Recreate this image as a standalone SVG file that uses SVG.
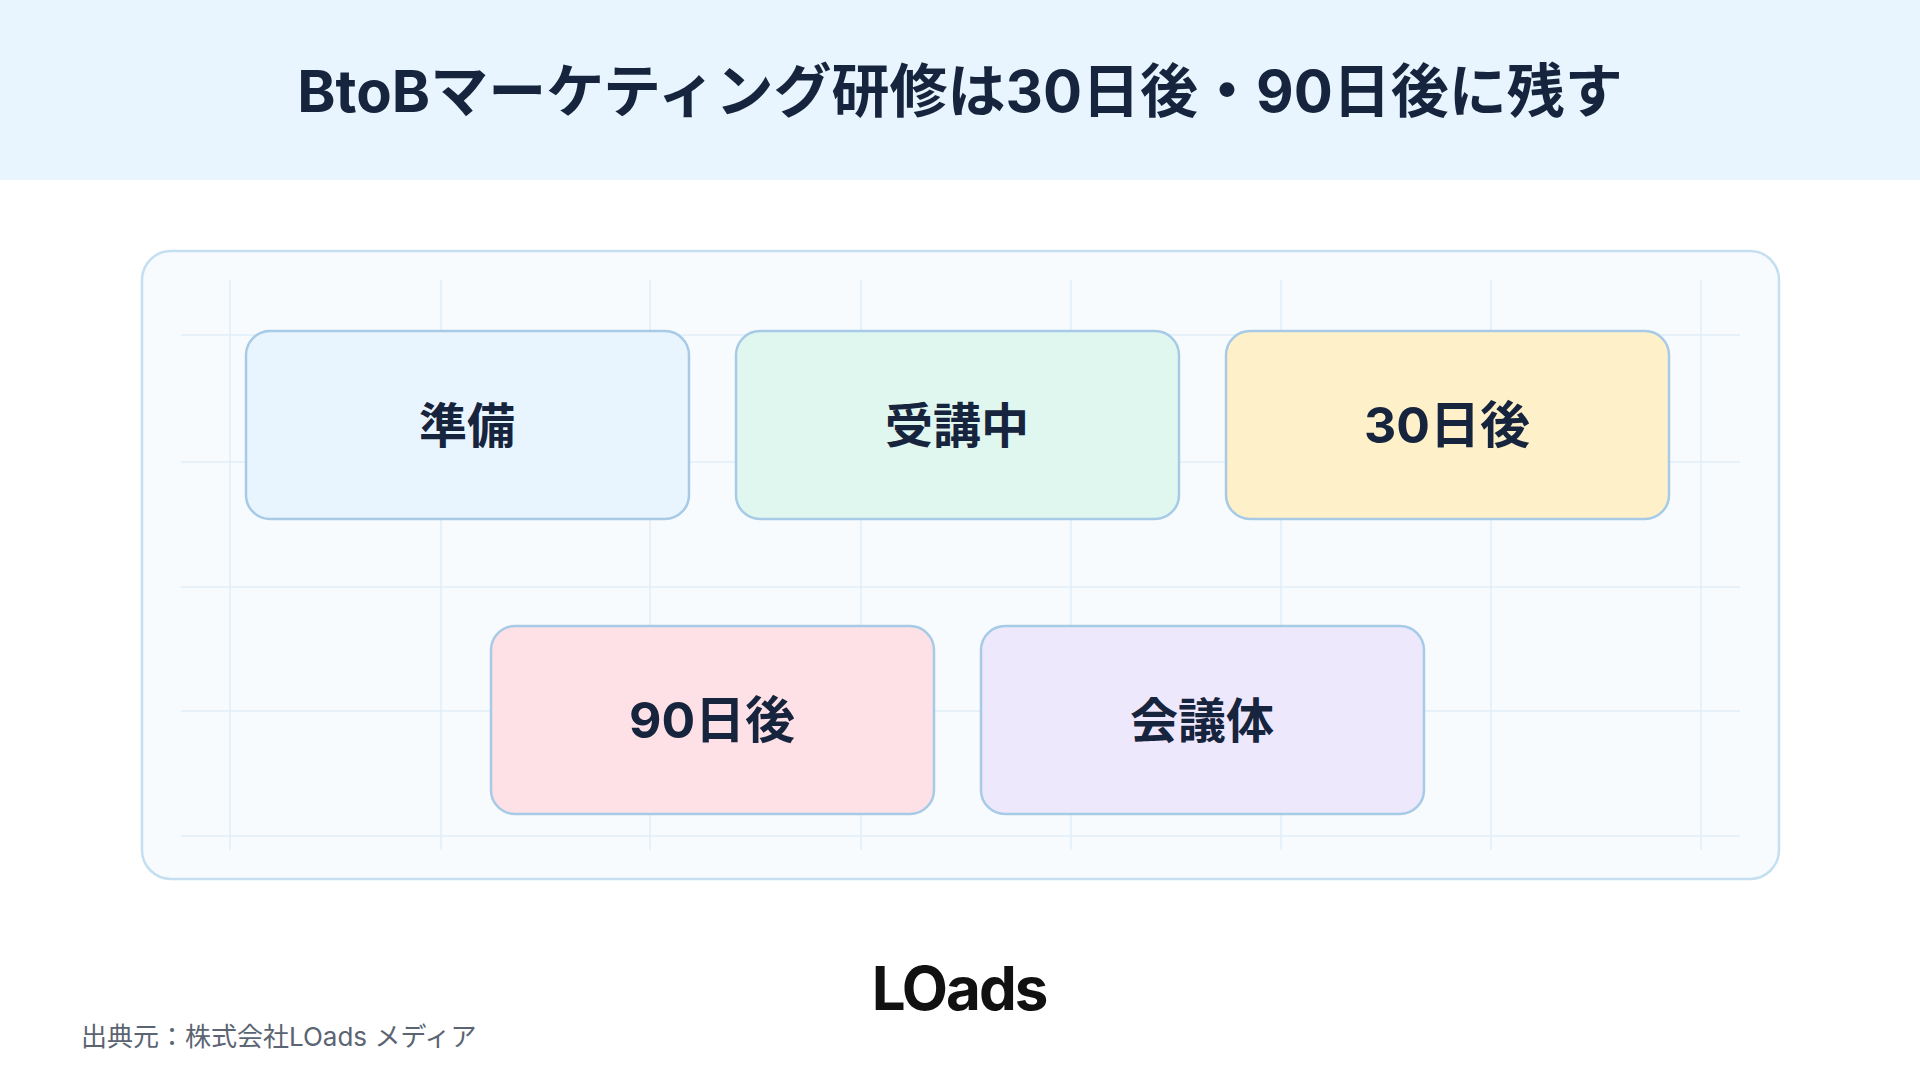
<svg xmlns="http://www.w3.org/2000/svg" width="1920" height="1080" viewBox="0 0 1920 1080">
<style>
.t{font-family:"Inter","Noto Sans CJK JP",sans-serif;font-weight:700;fill:#17243d;text-anchor:middle;dominant-baseline:central}
.n{stroke:#a7cbe6;stroke-width:2.5}
.g{stroke:#e1eef7;stroke-width:1.5}
</style>
<rect width="1920" height="1080" fill="#ffffff"/>
<rect width="1920" height="180" fill="#e8f5fe"/>
<text class="t" x="960" y="91" font-size="58">BtoBマーケティング研修は30日後・90日後に残す</text>
<rect x="142" y="251" width="1637" height="628" rx="29" fill="#f8fbfe" stroke="#c4e0f0" stroke-width="2.5"/>
<g id="grid">
<path class="g" d="M230 280V850M441 280V850M650 280V850M861 280V850M1071 280V850M1281 280V850M1491 280V850M1701 280V850M181 335H1740M181 462H1740M181 587H1740M181 711H1740M181 836H1740"/>
</g>
<g id="connectors"></g>
<g id="n1"><rect class="n" x="246" y="331" width="443" height="188" rx="24" fill="#e8f5fe"/><text class="t" x="467" y="425" font-size="48">準備</text></g>
<g id="n2"><rect class="n" x="736" y="331" width="443" height="188" rx="24" fill="#e0f7ef"/><text class="t" x="957" y="425" font-size="48">受講中</text></g>
<g id="n3"><rect class="n" x="1226" y="331" width="443" height="188" rx="24" fill="#fef0c9"/><text class="t" x="1447" y="425" font-size="50">30日後</text></g>
<g id="n4"><rect class="n" x="491" y="626" width="443" height="188" rx="24" fill="#fde1e6"/><text class="t" x="712" y="720" font-size="50">90日後</text></g>
<g id="n5"><rect class="n" x="981" y="626" width="443" height="188" rx="24" fill="#eee8fd"/><text class="t" x="1202" y="720" font-size="48">会議体</text></g>
<text class="t" x="959" y="988" font-size="60" style="fill:#111111" letter-spacing="-2">LOads</text>
<text x="81" y="1036" font-family="Inter,'Noto Sans CJK JP',sans-serif" font-size="26" fill="#5b6472" dominant-baseline="central">出典元：株式会社LOads メディア</text>
</svg>
